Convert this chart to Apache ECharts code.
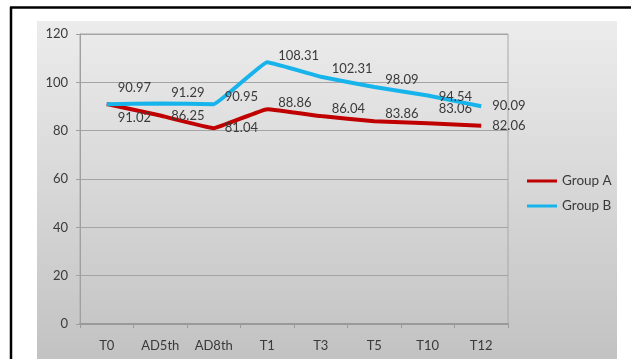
<!DOCTYPE html>
<html>
<head>
<meta charset="utf-8">
<script src="https://cdn.jsdelivr.net/npm/echarts@6/dist/echarts.min.js"></script>
<style>
html,body{margin:0;padding:0;background:#fff;}
#c{width:631px;height:359px;}
</style>
</head>
<body>
<div id="c"></div>
<script>
const categories = ['T0', 'AD5th', 'AD8th', 'T1', 'T3', 'T5', 'T10', 'T12'];
const groupA = [91.02, 86.25, 81.04, 88.86, 86.04, 83.86, 83.06, 82.06];
const groupB = [90.97, 91.29, 90.95, 108.31, 102.31, 98.09, 94.54, 90.09];
const seriesNames = ['Group A', 'Group B'];
const yTicks = { min: 0, max: 120, interval: 20 };

// label vertical nudges (style only)
const nudgeA = [14, 0, 0, -6, -7, -8, -14, 0];
const nudgeB = [-16, -11, -7, -6, -8, -7, 1, 0];

const FONT = 'Lato';
const TXT = '#3a3a3a';

function build(values, nudges) {
  return values.map((v, i) => ({
    value: v,
    label: { offset: [0, nudges[i]] }
  }));
}

const chart = echarts.init(document.getElementById('c'), null, { renderer: 'canvas' });
chart.setOption({
  animation: false,
  backgroundColor: '#ffffff',
  graphic: [
    {
      type: 'rect', z: -10, silent: true,
      shape: { x: 37, y: 21, width: 580, height: 340 },
      style: {
        fill: new echarts.graphic.LinearGradient(0, 0, 0, 1, [
          { offset: 0, color: '#ececec' },
          { offset: 1, color: '#c2c2c2' }
        ])
      }
    },
    { type: 'line', z: 10, silent: true, shape: { x1: 10, y1: 7.5, x2: 631, y2: 7.5 }, style: { stroke: '#000', lineWidth: 2.5 } },
    { type: 'line', z: 10, silent: true, shape: { x1: 11, y1: 7, x2: 11, y2: 359 }, style: { stroke: '#000', lineWidth: 2.5 } }
  ],
  grid: {
    left: 80, right: 123, top: 34, bottom: 35,
    show: true, borderColor: '#a8a8a8', borderWidth: 1,
    backgroundColor: 'transparent'
  },
  legend: {
    orient: 'vertical',
    left: 527, top: 174, padding: 0,
    itemWidth: 30, itemHeight: 3, itemGap: 11,
    icon: 'rect',
    textStyle: { fontFamily: FONT, fontSize: 13.5, color: TXT },
    data: seriesNames
  },
  xAxis: {
    type: 'category',
    data: categories,
    boundaryGap: true,
    axisLine: { lineStyle: { color: '#9a9a9a', width: 2 } },
    axisTick: { show: true, length: 4, inside: false, lineStyle: { color: '#9a9a9a' } },
    axisLabel: { fontFamily: FONT, fontSize: 13, color: TXT, margin: 15 },
    splitLine: { show: false }
  },
  yAxis: {
    type: 'value',
    min: yTicks.min, max: yTicks.max, interval: yTicks.interval,
    axisLine: { show: true, lineStyle: { color: '#a0a0a0' } },
    axisTick: { show: true, length: 4, lineStyle: { color: '#a0a0a0' } },
    axisLabel: { fontFamily: FONT, fontSize: 13, color: TXT, margin: 12 },
    splitLine: { show: true, lineStyle: { color: '#a4a4a4', width: 1 } }
  },
  series: [
    {
      name: seriesNames[0], type: 'line',
      data: build(groupA, nudgeA),
      smooth: 0.08,
      symbol: 'circle', symbolSize: 0, showSymbol: true,
      lineStyle: { color: '#c00000', width: 4 },
      itemStyle: { color: '#c00000' },
      label: { show: true, position: 'right', distance: 11, fontFamily: FONT, fontSize: 13, color: TXT },
      z: 3
    },
    {
      name: seriesNames[1], type: 'line',
      data: build(groupB, nudgeB),
      smooth: 0.08,
      symbol: 'circle', symbolSize: 0, showSymbol: true,
      lineStyle: { color: '#17b4ec', width: 4 },
      itemStyle: { color: '#17b4ec' },
      label: { show: true, position: 'right', distance: 11, fontFamily: FONT, fontSize: 13, color: TXT },
      z: 4
    }
  ]
});
</script>
</body>
</html>
